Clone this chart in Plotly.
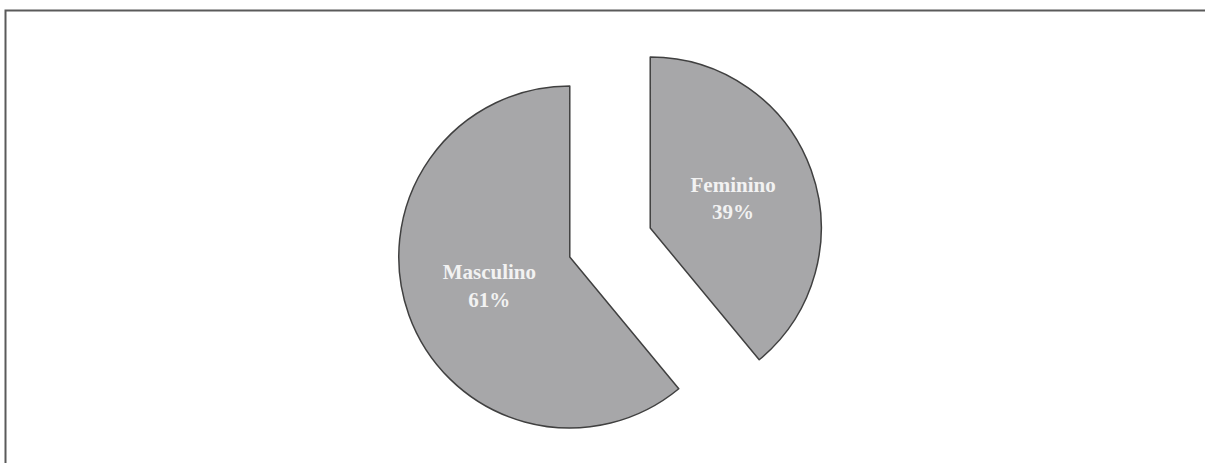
import plotly.graph_objects as go

labels = ["Feminino", "Masculino"]
values = [39, 61]

W, H = 1205, 463

fig = go.Figure()
fig.add_trace(go.Pie(
    labels=labels,
    values=values,
    sort=False,
    direction="clockwise",
    rotation=0,
    pull=[0.25, 0.25],
    marker=dict(colors=["#a7a7a9", "#a7a7a9"], line=dict(color="#404040", width=1.5)),
    texttemplate="<b>%{label}<br>%{percent}</b>",
    textposition="inside",
    insidetextorientation="horizontal",
    textfont=dict(family="Liberation Serif", size=21, color="#f2f2f2"),
    hoverinfo="none",
    domain=dict(x=[(610 - 400) / W, (610 + 400) / W],
                y=[1 - 456.25 / H, 1 - 28.75 / H]),
    showlegend=False,
))

fig.add_shape(type="rect", xref="paper", yref="paper",
              x0=5.5 / W, x1=1.02, y0=-0.02, y1=1 - 10.5 / H,
              line=dict(color="#5a5a5a", width=2))

fig.update_layout(
    width=W, height=H,
    margin=dict(l=0, r=0, t=0, b=0),
    paper_bgcolor="white",
    plot_bgcolor="white",
    showlegend=False,
)

fig.write_html("out.html",
               config={"displayModeBar": False},
               post_script="document.body.style.margin='0';document.body.style.padding='0';")
